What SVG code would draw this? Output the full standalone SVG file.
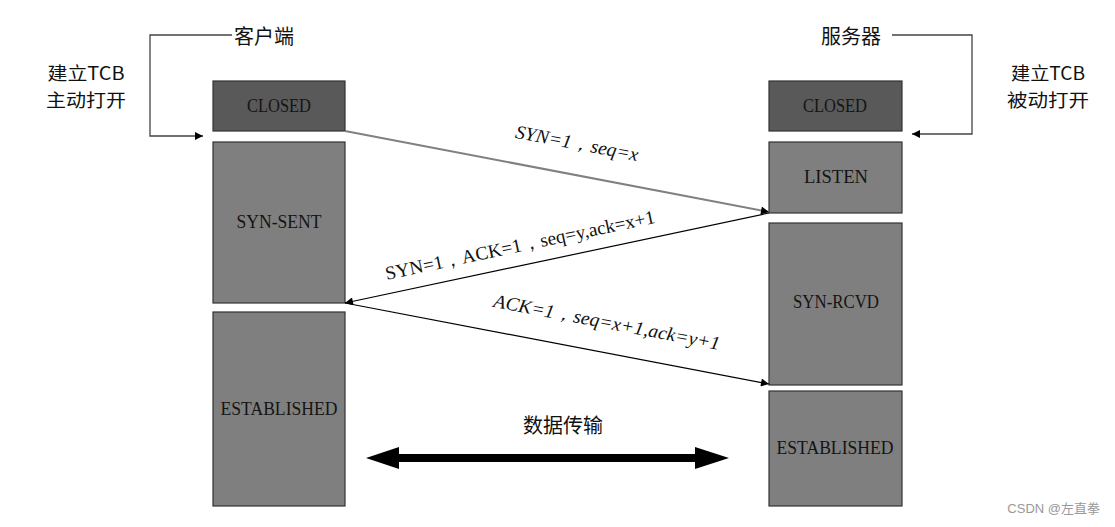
<svg xmlns="http://www.w3.org/2000/svg" width="1115" height="527" viewBox="0 0 1115 527">
<style>
.box{stroke:#333;stroke-width:1.2}
.dark{fill:#595959}
.mid{fill:#7f7f7f}
.st{font-family:"Liberation Serif",serif;font-size:18px;fill:#141414;text-anchor:middle;dominant-baseline:central}
.cn{font-family:"Noto Sans CJK SC","Liberation Sans",sans-serif;font-size:20px;fill:#111;text-anchor:middle;dominant-baseline:central}
.note{font-family:"Noto Sans CJK SC","Liberation Sans",sans-serif;font-size:18px;fill:#111;text-anchor:middle;dominant-baseline:central}
.lbl{font-family:"Liberation Serif",serif;font-size:19px;fill:#111;text-anchor:middle;dominant-baseline:central}
</style>
<defs>
<marker id="ah" viewBox="0 0 10 10" refX="10" refY="5" markerWidth="10" markerHeight="8" markerUnits="userSpaceOnUse" orient="auto">
<path d="M0,0 L10,5 L0,10 z" fill="#000"/>
</marker>
</defs>
<rect width="1115" height="527" fill="#fff"/>
<g id="client-label"><text class="cn" x="264" y="35">客户端</text></g>
<g id="server-label"><text class="cn" x="851" y="35">服务器</text></g>
<g id="client-note"><text class="note" x="86" y="72" textLength="77" lengthAdjust="spacingAndGlyphs">建立TCB</text><text class="note" x="86" y="99" textLength="80" lengthAdjust="spacingAndGlyphs">主动打开</text></g>
<g id="server-note"><text class="note" x="1048" y="72" textLength="74" lengthAdjust="spacingAndGlyphs">建立TCB</text><text class="note" x="1048" y="99" textLength="82" lengthAdjust="spacingAndGlyphs">被动打开</text></g>
<g id="c-closed"><rect class="box dark" x="213" y="81" width="132" height="50"/><text class="st" x="279" y="106" textLength="64" lengthAdjust="spacingAndGlyphs">CLOSED</text></g>
<g id="c-synsent"><rect class="box mid" x="213" y="142" width="132" height="161"/><text class="st" x="279" y="222" textLength="85" lengthAdjust="spacingAndGlyphs">SYN-SENT</text></g>
<g id="c-established"><rect class="box mid" x="213" y="312" width="132" height="194"/><text class="st" x="279" y="409" textLength="117" lengthAdjust="spacingAndGlyphs">ESTABLISHED</text></g>
<g id="s-closed"><rect class="box dark" x="769" y="81" width="133" height="50"/><text class="st" x="835" y="106" textLength="64" lengthAdjust="spacingAndGlyphs">CLOSED</text></g>
<g id="s-listen"><rect class="box mid" x="769" y="142" width="133" height="71"/><text class="st" x="836" y="177" textLength="64" lengthAdjust="spacingAndGlyphs">LISTEN</text></g>
<g id="s-synrcvd"><rect class="box mid" x="769" y="223" width="133" height="162"/><text class="st" x="836" y="302" textLength="86" lengthAdjust="spacingAndGlyphs">SYN-RCVD</text></g>
<g id="s-established"><rect class="box mid" x="769" y="391" width="133" height="115"/><text class="st" x="835" y="448" textLength="117" lengthAdjust="spacingAndGlyphs">ESTABLISHED</text></g>
<g id="connectors" fill="none">
<polyline points="232,35 150,35 150,136 203,136" stroke="#444" stroke-width="1.3" marker-end="url(#ah)"/>
<polyline points="892,35 972,35 972,134 912,134" stroke="#444" stroke-width="1.3" marker-end="url(#ah)"/>
<line x1="345" y1="131" x2="769" y2="212" stroke="#808080" stroke-width="2" marker-end="url(#ah)"/>
<line x1="769" y1="213" x2="345" y2="303" stroke="#000" stroke-width="1.2" marker-end="url(#ah)"/>
<line x1="345" y1="303" x2="769" y2="384" stroke="#000" stroke-width="1.2" marker-end="url(#ah)"/>
<line x1="398" y1="458" x2="696" y2="458" stroke="#000" stroke-width="8"/>
<path d="M366,458 L399,447 L399,469 z" fill="#000"/>
<path d="M729,458 L695,447 L695,469 z" fill="#000"/>
</g>
<g id="labels">
<text class="lbl" x="577" y="143" font-style="italic" transform="rotate(10.8 577 143)" textLength="125" lengthAdjust="spacingAndGlyphs">SYN=1，seq=x</text>
<text class="lbl" x="520" y="245" transform="rotate(-12 520 245)" textLength="275" lengthAdjust="spacingAndGlyphs">SYN=1，ACK=1，seq=y,ack=x+1</text>
<text class="lbl" x="607" y="322" font-style="italic" transform="rotate(10.8 607 322)" textLength="230" lengthAdjust="spacingAndGlyphs">ACK=1，seq=x+1,ack=y+1</text>
<text class="cn" x="563" y="424">数据传输</text>
</g>
<text x="1100" y="508" font-family="Liberation Sans,Noto Sans CJK SC,sans-serif" font-size="13" fill="#999" text-anchor="end" dominant-baseline="central">CSDN @左直拳</text>
</svg>
